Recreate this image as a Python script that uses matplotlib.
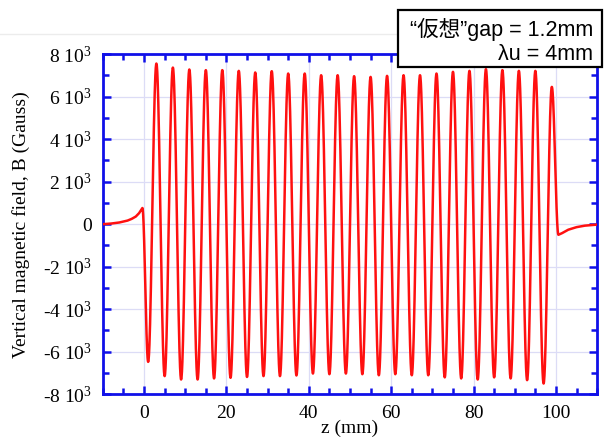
#!/usr/bin/env python3
import numpy as np
import matplotlib.pyplot as plt
from matplotlib.ticker import MultipleLocator, FuncFormatter
from matplotlib.patches import Rectangle
from matplotlib.lines import Line2D

# -----------------------------
# Values
# -----------------------------
# field extrema inside the undulator (z in mm, B in Gauss)
trough_z = [1, 5, 9, 13, 17, 21, 25, 29, 33, 37, 41, 45, 49, 53,
            57, 61, 65, 69, 73, 77, 81, 85, 89, 93, 97]
trough_B = [-6480, -7150, -7310, -7310, -7260, -7230, -7190, -7150, -7150,
            -7120, -7030, -7060, -7030, -7060, -7110, -7060, -7110, -7110,
            -7210, -7260, -7310, -7210, -7260, -7340, -7500]
peak_z = [3, 7, 11, 15, 19, 23, 27, 31, 35, 39, 43, 47, 51,
          55, 59, 63, 67, 71, 75, 79, 83, 87, 91, 95, 99]
peak_B = [7560, 7370, 7280, 7250, 7250, 7215, 7140, 7200, 7090, 7090,
          7010, 7010, 6965, 6930, 6980, 7010, 7010, 7090, 7170, 7215,
          7295, 7250, 7215, 7215, 6460]

# fringe fields outside the magnet
left_z = [-10, -8, -6, -4, -3, -2, -1.2, -0.4]
left_B = [0, 30, 80, 170, 250, 360, 520, 760]
right_z = [100.6, 101.5, 103, 105, 107, 110]
right_B = [-500, -420, -260, -140, -70, -20]

# -----------------------------
# Build the curve: half-cosine between consecutive extrema
# -----------------------------
ext_z = [left_z[-1]]
ext_B = [left_B[-1]]
for tz, tb, pz, pb in zip(trough_z, trough_B, peak_z, peak_B):
    ext_z += [tz, pz]
    ext_B += [tb, pb]
ext_z.append(right_z[0])
ext_B.append(right_B[0])

zs = list(left_z)
bs = list(left_B)
for i in range(len(ext_z) - 1):
    t = np.linspace(0, 1, 40)[1:]
    w = 0.5 - 0.5 * np.cos(np.pi * t)
    zs += list(ext_z[i] + (ext_z[i + 1] - ext_z[i]) * t)
    bs += list(ext_B[i] + (ext_B[i + 1] - ext_B[i]) * w)
zs += right_z[1:]
bs += right_B[1:]

# -----------------------------
# Figure
# -----------------------------
blue = "#1010e8"
serif = "Liberation Serif"
plt.rcParams["mathtext.fontset"] = "custom"
plt.rcParams["mathtext.rm"] = serif
plt.rcParams["mathtext.it"] = serif + ":italic"

fig = plt.figure(figsize=(6.05, 4.37), dpi=100)
ax = fig.add_axes([0.170, 0.098, 0.817, 0.778])

ax.plot(zs, bs, color="#ff1010", linewidth=1.8, zorder=3)

ax.set_xlim(-10, 110)
ax.set_ylim(-8000, 8000)
ax.xaxis.set_major_locator(MultipleLocator(20))
ax.xaxis.set_minor_locator(MultipleLocator(5))
ax.yaxis.set_major_locator(MultipleLocator(2000))
ax.yaxis.set_minor_locator(MultipleLocator(1000))


def ylab(v, pos):
    k = int(round(v / 1000))
    if k == 0:
        return "0"
    return f"{k} 10$^{{3}}$"


ax.yaxis.set_major_formatter(FuncFormatter(ylab))
ax.grid(True, which="major", color="#dcdcf6", linewidth=0.9, zorder=0)

for s in ax.spines.values():
    s.set_color(blue)
    s.set_linewidth(2)
ax.tick_params(which="both", direction="in", top=True, right=True,
               color=blue, width=1.8)
ax.tick_params(which="major", length=6, pad=8)
ax.tick_params(which="minor", length=4)
for lab in ax.get_xticklabels() + ax.get_yticklabels():
    lab.set_fontfamily(serif)
    lab.set_fontsize(14)

ax.set_xlabel("z (mm)", fontfamily=serif, fontsize=14, labelpad=-2)
ax.set_ylabel("Vertical magnetic field, B (Gauss)", fontfamily=serif,
              fontsize=14, labelpad=9)

# faint slide line at the top
fig.add_artist(Line2D([0, 0.66], [1 - 34 / 437] * 2, color="#ececec",
                      linewidth=1, transform=fig.transFigure))

# label box
box = Rectangle((398 / 605, 1 - 67 / 437), 204 / 605, 57 / 437,
                transform=fig.transFigure, facecolor="white",
                edgecolor="black", linewidth=1.6, zorder=10)
fig.add_artist(box)
fam = ["Liberation Sans", "Noto Sans CJK JP"]
fig.text(593 / 605, 1 - 29 / 437, "\u201c仮想\u201dgap = 1.2mm", ha="right",
         va="center", fontsize=15.5, family=fam, zorder=11)
fig.text(593 / 605, 1 - 55 / 437, "\u03bbu = 4mm", ha="right",
         va="center", fontsize=15.5, family=fam, zorder=11)

fig.savefig("out.png", dpi=100)
